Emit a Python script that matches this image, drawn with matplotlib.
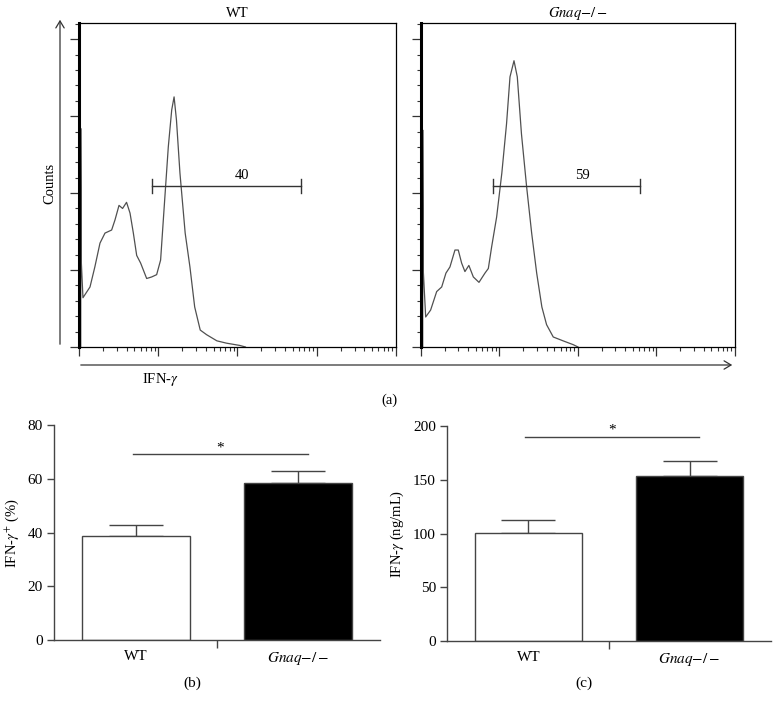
import numpy as np
import matplotlib
matplotlib.use('Agg')
import matplotlib.pyplot as plt
from matplotlib.patches import FancyArrowPatch
from matplotlib.ticker import MultipleLocator, LogLocator, NullFormatter

plt.rcParams['font.family'] = ['Liberation Serif', 'DejaVu Serif']
plt.rcParams['mathtext.fontset'] = 'stix'

# ---- (a) flow histograms: log10 fluorescence vs. counts (arbitrary units) ----
wt_log_fl = [0.022, 0.022, 0.03, 0.05, 0.139, 0.2, 0.265, 0.328, 0.412, 0.454, 0.505, 0.55,
             0.60, 0.644, 0.686, 0.728, 0.778, 0.854, 0.917, 0.98, 1.03, 1.07, 1.127,
             1.17, 1.20, 1.23, 1.274, 1.34, 1.40, 1.46, 1.53, 1.61, 1.74, 1.86, 2.03, 2.1]
wt_counts = [0.0, 2.84, 1.09, 0.64, 0.78, 1.04, 1.35, 1.48, 1.52, 1.65, 1.84, 1.80,
             1.88, 1.74, 1.48, 1.19, 1.09, 0.89, 0.91, 0.94, 1.13, 1.74, 2.60,
             3.08, 3.25, 2.95, 2.26, 1.48, 1.04, 0.52, 0.22, 0.16, 0.08, 0.05, 0.02, 0.0]

ko_log_fl = [0.022, 0.022, 0.03, 0.06, 0.123, 0.2, 0.264, 0.318, 0.369, 0.433, 0.475, 0.518,
             0.56, 0.61, 0.667, 0.739, 0.815, 0.858, 0.90, 0.964, 1.03, 1.09, 1.134,
             1.185, 1.227, 1.28, 1.346, 1.41, 1.474, 1.54, 1.60, 1.685, 1.81, 1.94, 2.0]
ko_counts = [0.0, 2.82, 0.98, 0.39, 0.48, 0.72, 0.78, 0.96, 1.04, 1.26, 1.26, 1.09,
             0.98, 1.06, 0.91, 0.84, 0.96, 1.02, 1.30, 1.69, 2.26, 2.90, 3.51,
             3.72, 3.51, 2.77, 2.08, 1.48, 0.96, 0.52, 0.29, 0.13, 0.08, 0.03, 0.0]

hist_titles = ['WT', r'$\it{Gnaq}$$-/-$']
gates = [(8.3, 630), (8.3, 620)]
gate_level = 2.09
gate_labels = ['40', '59']

# ---- (b), (c) bar charts ----
groups = ['WT', r'$\it{Gnaq}$$-/-$']
pct_mean = [38.7, 58.4]
pct_sem = [4.0, 4.5]
conc_mean = [100.2, 153.8]
conc_sem = [12.1, 13.9]

FS = 11

fig = plt.figure(figsize=(7.79, 7.08), dpi=100)

hist_axes = [fig.add_axes([0.1014, 0.5099, 0.4069, 0.4576]),
             fig.add_axes([0.5404, 0.5099, 0.4031, 0.4576])]
hist_data = [(wt_log_fl, wt_counts), (ko_log_fl, ko_counts)]

for ax, (lx, cy), title, (g0, g1), glab in zip(hist_axes, hist_data, hist_titles, gates, gate_labels):
    ax.plot(10 ** np.array(lx), cy, color='#505050', lw=0.9)
    ax.set_xscale('log')
    ax.set_xlim(1, 1e4)
    ax.set_ylim(0, 4.21)
    ax.xaxis.set_major_locator(LogLocator(base=10, numticks=10))
    ax.xaxis.set_minor_locator(LogLocator(base=10, subs=np.arange(2, 10), numticks=10))
    ax.xaxis.set_major_formatter(NullFormatter())
    ax.xaxis.set_minor_formatter(NullFormatter())
    ax.yaxis.set_major_locator(MultipleLocator(1))
    ax.yaxis.set_minor_locator(MultipleLocator(0.2))
    ax.set_yticklabels([])
    ax.tick_params(which='major', direction='out', length=6.5, width=0.9, color='#333333')
    ax.tick_params(which='minor', direction='out', length=3, width=0.8, color='#333333')
    for s in ax.spines.values():
        s.set_linewidth(0.9)
    ax.spines['left'].set_linewidth(2.2)
    ax.set_title(title, fontsize=FS - 0.5, pad=4)
    # gate marker
    ax.plot([g0, g1], [gate_level, gate_level], color='#333333', lw=1)
    ax.plot([g0, g0], [gate_level - 0.09, gate_level + 0.09], color='#333333', lw=1)
    ax.plot([g1, g1], [gate_level - 0.09, gate_level + 0.09], color='#333333', lw=1)
    ax.text(np.sqrt(g0 * g1) * 1.6, gate_level + 0.05, glab, ha='center', va='bottom', fontsize=FS - 0.5)

# outer axis arrows for panel (a)
fig.patches.append(FancyArrowPatch(
    (60 / 779, 1 - 347 / 708), (60 / 779, 1 - 17 / 708), transform=fig.transFigure,
    arrowstyle='->,head_length=5,head_width=3', color='#333333', lw=0.9, mutation_scale=1))
fig.patches.append(FancyArrowPatch(
    (78 / 779, 1 - 365 / 708), (735 / 779, 1 - 365 / 708), transform=fig.transFigure,
    arrowstyle='->,head_length=5,head_width=3', color='#333333', lw=0.9, mutation_scale=1))
fig.text(50 / 779, 1 - 183 / 708, 'Counts', rotation=90, ha='center', va='center', fontsize=FS - 0.5)
fig.text(160 / 779, 1 - 379 / 708, r'IFN-$\gamma$', ha='center', va='center', fontsize=FS - 0.5)
fig.text(389 / 779, 1 - 400 / 708, '(a)', ha='center', va='center', fontsize=FS - 0.5)


def bar_panel(ax, means, sems, ymax, step, ylabel, sig_y, star_y, letter, letter_x):
    x = np.arange(len(groups))
    ax.bar(x, means, width=0.667, color=['white', 'black'], edgecolor='#444444', linewidth=1, zorder=2)
    ax.errorbar(x, np.array(means), yerr=[np.zeros(len(sems)), sems], fmt='none',
                ecolor='#444444', elinewidth=1, capsize=19.5, capthick=1, zorder=1)
    ax.set_xlim(-0.505, 1.505)
    ax.set_ylim(0, ymax)
    ax.yaxis.set_major_locator(MultipleLocator(step))
    ax.set_xticks([0.5])
    ax.set_xticklabels([])
    ax.tick_params(axis='x', direction='out', length=6, width=1, color='#444444')
    ax.tick_params(axis='y', direction='out', length=5, width=1, color='#444444', labelsize=FS, pad=3)
    for gx, g in zip(x, groups):
        ax.text(gx, -ymax * 0.045, g, ha='center', va='top', fontsize=FS)
    for side in ['top', 'right']:
        ax.spines[side].set_visible(False)
    for side in ['left', 'bottom']:
        ax.spines[side].set_linewidth(1)
        ax.spines[side].set_color('#444444')
    ax.set_ylabel(ylabel, fontsize=FS - 0.5, labelpad=5)
    ax.plot([-0.02, 1.06], [sig_y, sig_y], color='#444444', lw=1, clip_on=False)
    ax.text(0.52, star_y, '*', ha='center', va='center', fontsize=FS, clip_on=False)
    fig.text(letter_x, 1 - 683 / 708, letter, ha='center', va='center', fontsize=FS)


ax_b = fig.add_axes([0.0693, 0.0960, 0.4185, 0.3037])
bar_panel(ax_b, pct_mean, pct_sem, 80, 20, r'IFN-$\gamma^{+}$ (%)', 69.1, 71.6, '(b)', 192 / 779)

ax_c = fig.add_axes([0.5738, 0.0946, 0.4159, 0.3037])
bar_panel(ax_c, conc_mean, conc_sem, 200, 50, r'IFN-$\gamma$ (ng/mL)', 189.5, 196.0, '(c)', 584 / 779)

fig.savefig('out.png', dpi=100)
